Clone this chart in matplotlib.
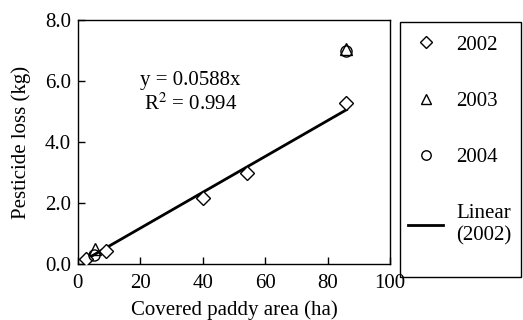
import numpy as np
import matplotlib
matplotlib.use('Agg')
import matplotlib.pyplot as plt
from matplotlib.patches import Rectangle

# data
area_2002 = [2.5, 9.0, 40.2, 54.1, 85.9]
loss_2002 = [0.18, 0.42, 2.17, 2.97, 5.27]
area_2003 = [5.4, 86.0]
loss_2003 = [0.50, 7.05]
area_2004 = [5.1, 86.0]
loss_2004 = [0.30, 7.00]
slope = 0.0588
fit_x = [2.5, 86.0]

plt.rcParams['font.family'] = 'Liberation Serif'
plt.rcParams['mathtext.fontset'] = 'stix'
plt.rcParams['font.size'] = 15

fig = plt.figure(figsize=(5.23, 3.2), dpi=100)
ax = fig.add_axes([0.149, 0.175, 0.597, 0.7625])

ax.plot(area_2002, loss_2002, linestyle='none', marker='D', markersize=7,
        mfc='white', mec='black', mew=1.0, label='2002', zorder=3)
ax.plot(area_2003, loss_2003, linestyle='none', marker='^', markersize=8,
        mfc='none', mec='black', mew=1.0, label='2003', zorder=3)
ax.plot(area_2004, loss_2004, linestyle='none', marker='o', markersize=8,
        mfc='none', mec='black', mew=1.0, label='2004', zorder=3)
fit_y = [slope * x for x in fit_x]
ax.plot(fit_x, fit_y, color='black', linewidth=2.0, label='Linear\n(2002)', zorder=2)

ax.text(36, 6.0, 'y = 0.0588x', ha='center', va='center')
ax.text(36, 5.25, 'R$^{2}$ = 0.994', ha='center', va='center')

ax.set_xlim(0, 100)
ax.set_ylim(0, 8)
ax.set_xticks([0, 20, 40, 60, 80, 100])
ax.set_yticks([0, 2, 4, 6, 8])
ax.set_yticklabels(['0.0', '2.0', '4.0', '6.0', '8.0'])
ax.tick_params(direction='in', length=5, width=1, top=False, right=False)
ax.tick_params(axis='y', pad=5)
ax.tick_params(axis='x', pad=7)
for s in ax.spines.values():
    s.set_linewidth(1.0)

ax.set_xlabel('Covered paddy area (ha)', labelpad=5.5)
ax.set_ylabel('Pesticide loss (kg)', labelpad=10)

# legend box drawn separately so its height matches the reference
fig.patches.append(Rectangle((0.765, 0.134), 0.231, 0.797, transform=fig.transFigure,
                             fill=False, edgecolor='black', linewidth=1.0))
handles, labels = ax.get_legend_handles_labels()
leg = fig.legend(handles, labels, loc='upper left', bbox_to_anchor=(0.7555, 0.931),
                 frameon=False, labelspacing=1.77, borderpad=0.62, handlelength=1.7,
                 handletextpad=0.6, borderaxespad=0, markerscale=0.85)

fig.savefig('out.png', dpi=100)
